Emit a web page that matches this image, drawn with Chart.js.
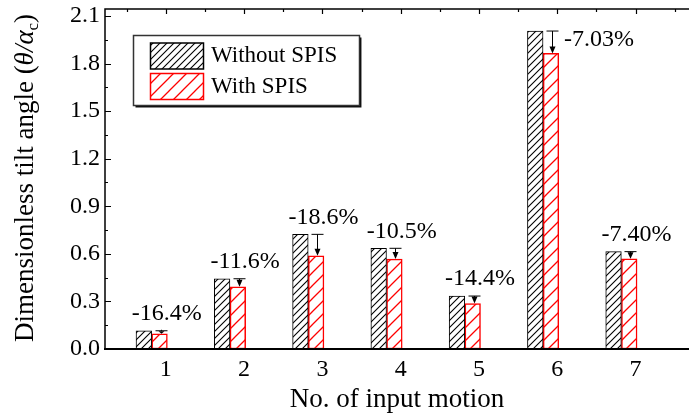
<!DOCTYPE html>
<html>
<head>
<meta charset="utf-8">
<script src="https://cdn.jsdelivr.net/npm/chart.js@4/dist/chart.umd.min.js"></script>
<style>
  html, body { margin: 0; padding: 0; background: #fff; overflow: hidden; }
  #wrap { width: 689px; height: 418px; position: relative; }
</style>
</head>
<body>
<div id="wrap"><canvas id="c" width="689" height="418"></canvas></div>
<script>
// ---- data ----
const categories = ['1', '2', '3', '4', '5', '6', '7'];
const withoutSPIS = [0.115, 0.443, 0.723, 0.635, 0.334, 2.005, 0.614];
const withSPIS    = [0.096, 0.392, 0.588, 0.567, 0.287, 1.864, 0.569];
const reductionLabels = ['-16.4%', '-11.6%', '-18.6%', '-10.5%', '-14.4%', '-7.03%', '-7.40%'];
const seriesNames = ['Without SPIS', 'With SPIS'];
const xTitle = 'No. of input motion';

const FONT = '"Liberation Serif", "Times New Roman", serif';
Chart.defaults.font.family = FONT;
Chart.defaults.color = '#000';

const canvas = document.getElementById('c');
const mainCtx = canvas.getContext('2d');

function makeHatch(color, size, lw) {
  const c = document.createElement('canvas');
  c.width = size; c.height = size;
  const g = c.getContext('2d');
  g.fillStyle = '#fff';
  g.fillRect(0, 0, size, size);
  g.strokeStyle = color;
  g.lineWidth = lw;
  g.beginPath();
  g.moveTo(-1, size + 1); g.lineTo(size + 1, -1);
  g.moveTo(-2, 2); g.lineTo(2, -2);
  g.moveTo(size - 2, size + 2); g.lineTo(size + 2, size - 2);
  g.stroke();
  return mainCtx.createPattern(c, 'repeat');
}
const hatchBlack = makeHatch('#000', 7, 1.1);
const hatchRed = makeHatch('#ff0000', 13, 1.3);

const BLACK_OFF = -0.281, RED_OFF = -0.080;

const overlay = {
  id: 'overlay',
  afterDatasetsDraw(chart) {
    const { ctx, chartArea: ca, scales: { x, y } } = chart;
    const redMeta = chart.getDatasetMeta(1);
    ctx.save();
    // reduction arrows
    ctx.strokeStyle = '#000';
    ctx.fillStyle = '#000';
    ctx.lineWidth = 1;
    for (let i = 0; i < categories.length; i++) {
      const ax = Math.round(redMeta.data[i].x + 1) + 0.5;
      const yTop = y.getPixelForValue(withoutSPIS[i]);
      const yBot = y.getPixelForValue(withSPIS[i]);
      ctx.beginPath();
      ctx.moveTo(ax - 6, yTop); ctx.lineTo(ax + 6, yTop);
      ctx.moveTo(ax, yTop); ctx.lineTo(ax, yBot - 4);
      ctx.stroke();
      const headTop = Math.max(yTop + 0.5, yBot - 7);
      ctx.beginPath();
      ctx.moveTo(ax - 3, headTop); ctx.lineTo(ax + 3, headTop); ctx.lineTo(ax, yBot);
      ctx.closePath();
      ctx.fill();
    }
    // percentage labels
    ctx.font = '24px ' + FONT;
    ctx.textBaseline = 'middle';
    for (let i = 0; i < categories.length; i++) {
      const yTop = y.getPixelForValue(withoutSPIS[i]);
      if (yTop - 30 < ca.top) {
        ctx.textAlign = 'left';
        ctx.fillText(reductionLabels[i], redMeta.data[i].x + 13, yTop + 9);
      } else {
        ctx.textAlign = 'center';
        ctx.fillText(reductionLabels[i], x.getPixelForValue(i + 1) + 1, yTop - 17);
      }
    }
    // frame
    ctx.lineWidth = 1.5;
    ctx.beginPath();
    ctx.moveTo(ca.left, ca.bottom); ctx.lineTo(ca.left, ca.top); ctx.lineTo(ca.right + 2, ca.top);
    ctx.stroke();
    ctx.lineWidth = 2;
    ctx.beginPath();
    ctx.moveTo(ca.left - 1, ca.bottom); ctx.lineTo(ca.right + 2, ca.bottom);
    ctx.stroke();
    // y ticks (inward): majors from the scale, minors halfway
    ctx.lineWidth = 1.2;
    const yt = y.ticks.map(t => t.value);
    ctx.beginPath();
    yt.forEach((v, k) => {
      const p = Math.round(y.getPixelForValue(v)) + 0.5;
      ctx.moveTo(ca.left, p); ctx.lineTo(ca.left + 6, p);
      if (k < yt.length - 1) {
        const pm = Math.round(y.getPixelForValue((v + yt[k + 1]) / 2)) + 0.5;
        ctx.moveTo(ca.left, pm); ctx.lineTo(ca.left + 3, pm);
      }
    });
    // top axis ticks (inward)
    const xt = x.ticks.map(t => t.value);
    xt.forEach(v => {
      const p = Math.round(x.getPixelForValue(v)) + 0.5;
      ctx.moveTo(p, ca.top); ctx.lineTo(p, ca.top + 5);
      [v - 0.5, v + 0.5].forEach(m => {
        if (m > x.min && m < x.max) {
          const pm = Math.round(x.getPixelForValue(m)) + 0.5;
          ctx.moveTo(pm, ca.top); ctx.lineTo(pm, ca.top + 3);
        }
      });
    });
    ctx.stroke();
    ctx.restore();
  },
  afterDraw(chart) {
    const { ctx, chartArea: ca } = chart;
    ctx.save();
    // legend
    const bx = 133.5, by = 35.5, bw = 226, bh = 70;
    ctx.fillStyle = '#fff';
    ctx.fillRect(bx, by, bw, bh);
    ctx.strokeStyle = '#333';
    ctx.lineWidth = 1.5;
    ctx.strokeRect(bx, by, bw, bh);
    ctx.strokeStyle = '#111';
    ctx.lineWidth = 1.5;
    ctx.beginPath();
    ctx.moveTo(bx + 2, by + bh + 1.2); ctx.lineTo(bx + bw + 1.2, by + bh + 1.2); ctx.lineTo(bx + bw + 1.2, by + 2);
    ctx.stroke();
    const sw = [
      { fill: hatchBlack, stroke: '#000', y: 43 },
      { fill: hatchRed, stroke: '#ff0000', y: 73.5 }
    ];
    ctx.font = '23px ' + FONT;
    ctx.textAlign = 'left';
    ctx.textBaseline = 'alphabetic';
    sw.forEach((s, k) => {
      ctx.fillStyle = s.fill;
      ctx.fillRect(150.5, s.y, 53, 26);
      ctx.strokeStyle = s.stroke;
      ctx.lineWidth = 1.5;
      ctx.strokeRect(150.5, s.y, 53, 26);
      ctx.fillStyle = '#000';
      ctx.fillText(seriesNames[k], 211, s.y + 19);
    });
    // y axis title with italic symbols and subscript
    const cy = (ca.top + ca.bottom) / 2 - 1;
    ctx.translate(33, cy);
    ctx.rotate(-Math.PI / 2);
    const parts = [
      { t: 'Dimensionless tilt angle (', f: '27px ' + FONT, dy: 0 },
      { t: '\u03B8/\u03B1', f: 'italic 27px ' + FONT, dy: 0 },
      { t: 'c', f: '17px ' + FONT, dy: 5 },
      { t: ')', f: '27px ' + FONT, dy: 0 }
    ];
    let total = 0;
    parts.forEach(p => { ctx.font = p.f; p.w = ctx.measureText(p.t).width; total += p.w; });
    let px = -total / 2;
    ctx.fillStyle = '#000';
    ctx.textAlign = 'left';
    ctx.textBaseline = 'alphabetic';
    parts.forEach(p => { ctx.font = p.f; ctx.fillText(p.t, px, p.dy); px += p.w; });
    ctx.restore();
  }
};

new Chart(canvas, {
  type: 'bar',
  data: {
    datasets: [
      {
        label: seriesNames[0],
        data: withoutSPIS.map((v, i) => ({ x: i + 1 + BLACK_OFF, y: v })),
        backgroundColor: hatchBlack,
        borderColor: '#000',
        borderWidth: 1,
        borderSkipped: false,
        barThickness: 15.6,
        grouped: false
      },
      {
        label: seriesNames[1],
        data: withSPIS.map((v, i) => ({ x: i + 1 + RED_OFF, y: v })),
        backgroundColor: hatchRed,
        borderColor: '#ff0000',
        borderWidth: 1.5,
        borderSkipped: false,
        barThickness: 15.6,
        grouped: false
      }
    ]
  },
  options: {
    responsive: false,
    animation: false,
    events: [],
    devicePixelRatio: 1,
    layout: { padding: { top: 9, right: 0, bottom: 0, left: 0 } },
    plugins: { legend: { display: false }, tooltip: { enabled: false } },
    scales: {
      x: {
        type: 'linear',
        min: 0.223,
        max: 7.683,
        offset: false,
        grid: { display: false, drawTicks: false },
        border: { display: false },
        ticks: {
          stepSize: 1,
          includeBounds: false,
          autoSkip: false,
          maxRotation: 0,
          padding: 6,
          color: '#000',
          font: { size: 24 },
          callback: v => (Number.isInteger(v) && v >= 1 && v <= categories.length) ? categories[v - 1] : ''
        },
        title: { display: true, text: xTitle, color: '#000', font: { size: 27 }, padding: { top: 0, bottom: 2 } },
        afterFit(s) { s.height = 69; s.paddingLeft = 0; s.paddingRight = 0; }
      },
      y: {
        min: 0,
        max: 2.144,
        grid: { display: false, drawTicks: false },
        border: { display: false },
        ticks: {
          stepSize: 0.3,
          includeBounds: false,
          padding: 5,
          color: '#000',
          font: { size: 24 },
          callback: v => v.toFixed(1)
        },
        title: { display: false },
        afterFit(s) { s.width = 105; s.paddingTop = 0; s.paddingBottom = 0; }
      }
    }
  },
  plugins: [overlay]
});
</script>
</body>
</html>
